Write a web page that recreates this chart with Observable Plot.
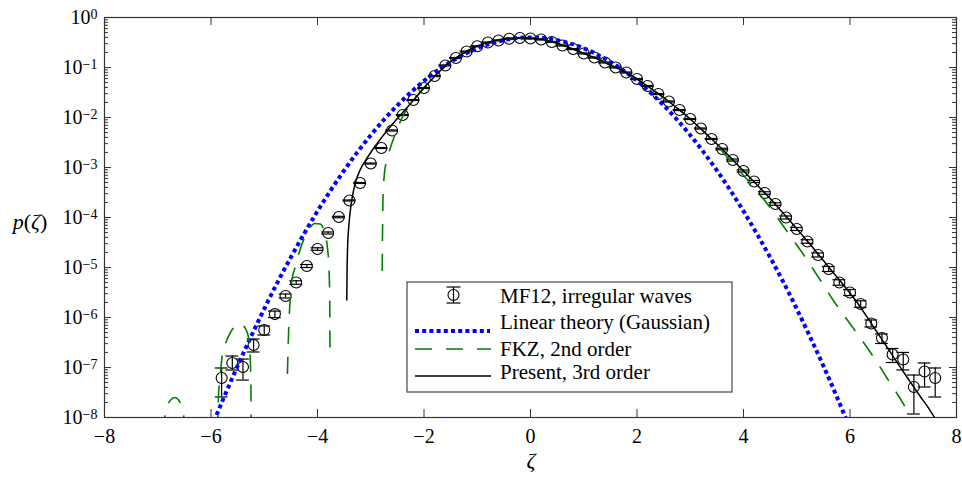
<!DOCTYPE html>
<html><head><meta charset="utf-8">
<script src="https://cdn.jsdelivr.net/npm/d3@7"></script>
<script src="https://cdn.jsdelivr.net/npm/@observablehq/plot@0.6"></script>
<style>
body{margin:0;background:#fff;}
#wrap{width:962px;height:478px;}
#wrap svg text, #wrap svg tspan{font-family:"Liberation Serif","Times New Roman",serif !important;}
</style></head><body><div id="wrap"></div>
<script>
// ---------- axis ticks ----------
const zetaTicks = [-8, -6, -4, -2, 0, 2, 4, 6, 8];
const decades = [1e-8, 1e-7, 1e-6, 1e-5, 1e-4, 1e-3, 1e-2, 1e-1, 1];
const decadeExponents = ["\u22128", "\u22127", "\u22126", "\u22125", "\u22124", "\u22123", "\u22122", "\u22121", "0"];

// ---------- MF12 irregular waves (circles with error bars) ----------
const mfZeta = [-5.8,-5.6,-5.4,-5.2,-5.0,-4.8,-4.6,-4.4,-4.2,-4.0,-3.8,-3.6,-3.4,-3.2,-3.0,-2.8,-2.6,-2.4,-2.2,-2.0,-1.8,-1.6,-1.4,-1.2,-1.0,-0.8,-0.6,-0.4,-0.2,0.0,0.2,0.4,0.6,0.8,1.0,1.2,1.4,1.6,1.8,2.0,2.2,2.4,2.6,2.8,3.0,3.2,3.4,3.6,3.8,4.0,4.2,4.4,4.6,4.8,5.0,5.2,5.4,5.6,5.8,6.0,6.2,6.4,6.6,6.8,7.0,7.2,7.4,7.6];
const mfP = [6.17e-8,1.23e-7,1.02e-7,2.82e-7,5.62e-7,1.17e-6,2.69e-6,5.01e-6,1.07e-5,2.34e-5,4.90e-5,1.02e-4,2.19e-4,4.90e-4,1.20e-3,2.45e-3,5.50e-3,1.12e-2,2.24e-2,3.89e-2,6.76e-2,0.110,0.155,0.209,0.266,0.316,0.347,0.376,0.389,0.380,0.363,0.324,0.275,0.234,0.191,0.158,0.126,0.100,0.0794,0.0589,0.0427,0.0295,0.0209,0.0141,9.33e-3,6.03e-3,3.72e-3,2.34e-3,1.41e-3,8.51e-4,5.25e-4,3.09e-4,1.86e-4,1.00e-4,5.89e-5,3.31e-5,1.78e-5,9.33e-6,5.01e-6,3.16e-6,1.86e-6,7.59e-7,3.89e-7,1.82e-7,1.45e-7,4.07e-8,8.32e-8,6.17e-8];
// error bar extent below / above each point, in decades
const mfErrDown = [0.38,0.14,0.26,0.14,0.10,0.07,0.04,0.035,0.03,0.025,0.02,0.015,
  0.01,0.01,0.01,0.01,0.01,0.01,0.01,0.01,0.01,0.01,0.01,0.01,0.01,0.01,0.01,0.01,0.01,0.01,0.01,0.01,0.01,0.01,0.01,0.01,0.01,0.01,0.01,0.01,0.01,0.01,0.01,0.01,0.01,0.01,0.01,
  0.015,0.02,0.02,0.02,0.025,0.025,0.03,0.03,0.035,0.04,0.05,0.055,0.06,0.065,0.07,0.11,0.16,0.21,0.54,0.31,0.38];
const mfErrUp = [0.20,0.14,0.16,0.12,0.08,0.06,0.04,0.035,0.03,0.025,0.02,0.015,
  0.01,0.01,0.01,0.01,0.01,0.01,0.01,0.01,0.01,0.01,0.01,0.01,0.01,0.01,0.01,0.01,0.01,0.01,0.01,0.01,0.01,0.01,0.01,0.01,0.01,0.01,0.01,0.01,0.01,0.01,0.01,0.01,0.01,0.01,0.01,
  0.015,0.02,0.02,0.02,0.025,0.025,0.03,0.03,0.035,0.04,0.05,0.055,0.06,0.065,0.07,0.08,0.12,0.14,0.24,0.17,0.20];

// ---------- Linear theory (Gaussian) ----------
const gaussZeta = [-6,-5.75,-5.5,-5.25,-5,-4.75,-4.5,-4.25,-4,-3.75,-3.5,-3.25,-3,-2.75,-2.5,-2.25,-2,-1.75,-1.5,-1.25,-1,-0.75,-0.5,-0.25,0,0.25,0.5,0.75,1,1.25,1.5,1.75,2,2.25,2.5,2.75,3,3.25,3.5,3.75,4,4.25,4.5,4.75,5,5.25,5.5,5.75,6];
const gaussP = [6.08e-9,2.63e-8,1.08e-7,4.1e-7,1.49e-6,5.08e-6,1.6e-5,4.75e-5,1.34e-4,3.53e-4,8.73e-4,2.03e-3,4.43e-3,9.1e-3,1.75e-2,3.17e-2,5.4e-2,8.63e-2,0.1295,0.1826,0.242,0.301,0.352,0.387,0.399,0.387,0.352,0.301,0.242,0.1826,0.1295,8.63e-2,5.4e-2,3.17e-2,1.75e-2,9.1e-3,4.43e-3,2.03e-3,8.73e-4,3.53e-4,1.34e-4,4.75e-5,1.6e-5,5.08e-6,1.49e-6,4.1e-7,1.08e-7,2.63e-8,6.08e-9];

// ---------- FKZ, 2nd order (four separate lobes) ----------
const fkzAZeta = [-6.9,-6.87,-6.8,-6.75,-6.68,-6.6,-6.55,-6.51,-6.49];
const fkzAP = [5.01e-9,1.0e-8,1.91e-8,2.29e-8,2.51e-8,2.19e-8,1.58e-8,1.0e-8,6.31e-9];
const fkzBZeta = [-5.88,-5.86,-5.83,-5.79,-5.72,-5.65,-5.55,-5.45,-5.38,-5.32,-5.28,-5.262,-5.25,-5.245];
const fkzBP = [5.01e-9,2.51e-8,6.31e-8,1.70e-7,3.16e-7,4.68e-7,6.76e-7,7.59e-7,6.61e-7,5.01e-7,3.16e-7,1.41e-7,3.98e-8,5.01e-9];
const fkzCZeta = [-4.565,-4.54,-4.51,-4.48,-4.42,-4.35,-4.25,-4.15,-4.05,-3.95,-3.88,-3.82,-3.785,-3.77,-3.765];
const fkzCP = [7.41e-8,6.31e-7,2.51e-6,5.62e-6,1.0e-5,1.91e-5,3.80e-5,6.03e-5,7.59e-5,7.41e-5,5.62e-5,2.82e-5,1.0e-5,2.0e-6,1.48e-7];
const fkzDZeta = [-2.785,-2.778,-2.77,-2.75,-2.72,-2.68,-2.62,-2.55,-2.48,-2.4,-2.3,
  -2.1,-1.9,-1.7,-1.5,-1.3,-1.1,-0.9,-0.7,-0.5,-0.3,-0.1,0.1,0.3,0.5,0.7,0.9,1.1,1.3,1.5,1.7,1.9,2.1,2.3,2.5,2.7,2.9,3.1,3.3,
  3.5,3.7,3.9,4.1,4.3,4.5,4.7,4.9,5.1,5.3,5.5,5.7,5.9,6.1,6.3,6.5,6.7,6.9,7.1,7.2];
const fkzDP = [8.51e-6,6.31e-5,2.51e-4,6.31e-4,1.12e-3,1.66e-3,2.69e-3,4.37e-3,6.76e-3,1.05e-2,1.58e-2,
  2.95e-2,5.13e-2,8.51e-2,0.132,0.182,0.240,0.295,0.339,0.372,0.389,0.394,0.380,0.351,0.305,0.257,0.211,0.174,0.141,0.112,0.0891,0.0684,0.0501,0.0355,0.0251,0.0170,0.0115,7.41e-3,4.68e-3,
  2.82e-3,1.58e-3,9.12e-4,5.25e-4,2.95e-4,1.58e-4,7.94e-5,3.98e-5,2.0e-5,9.55e-6,4.47e-6,2.09e-6,1.05e-6,5.37e-7,2.69e-7,1.32e-7,6.03e-8,2.82e-8,1.26e-8,8.32e-9];

// ---------- Present, 3rd order ----------
const presentZeta = [-3.45,-3.445,-3.435,-3.41,-3.37,-3.3,-3.2,-3.05,-2.9,-2.7,-2.5,-2.3,-2.1,-1.9,-1.7,-1.5,-1.3,-1.1,-0.9,-0.7,-0.5,-0.3,-0.1,0.1,0.3,0.5,0.7,0.9,1.1,1.3,1.5,1.7,1.9,2.1,2.3,2.5,2.7,2.9,3.1,3.3,3.5,3.7,3.9,4.1,4.3,4.5,4.7,4.9,5.1,5.3,5.5,5.7,5.9,6.1,6.3,6.5,6.7,6.9,7.1,7.3,7.5,7.6];
const presentP = [2.24e-6,7.94e-6,2.51e-5,7.08e-5,1.78e-4,4.47e-4,8.91e-4,1.66e-3,2.82e-3,5.37e-3,9.55e-3,1.66e-2,2.95e-2,5.13e-2,8.51e-2,0.132,0.182,0.240,0.295,0.339,0.372,0.389,0.394,0.380,0.351,0.305,0.257,0.211,0.174,0.141,0.112,0.0891,0.0684,0.0501,0.0355,0.0251,0.0170,0.0115,7.41e-3,4.68e-3,2.95e-3,1.82e-3,1.10e-3,6.61e-4,3.98e-4,2.40e-4,1.38e-4,7.94e-5,4.47e-5,2.51e-5,1.38e-5,7.59e-6,4.17e-6,2.24e-6,1.10e-6,5.25e-7,2.51e-7,1.20e-7,5.75e-8,2.82e-8,1.41e-8,9.55e-9];

// ---------- tables ----------
const mf = mfZeta.map((z, i) => ({
  z, p: mfP[i],
  lo: mfP[i] / Math.pow(10, mfErrDown[i]),
  hi: mfP[i] * Math.pow(10, mfErrUp[i])
}));
const gauss = gaussZeta.map((z, i) => ({z, p: gaussP[i]}));
const fkz = [
  ...fkzAZeta.map((z, i) => ({z, p: fkzAP[i], lobe: "A"})),
  ...fkzBZeta.map((z, i) => ({z, p: fkzBP[i], lobe: "B"})),
  ...fkzCZeta.map((z, i) => ({z, p: fkzCP[i], lobe: "C"})),
  ...fkzDZeta.map((z, i) => ({z, p: fkzDP[i], lobe: "D"}))
];
const present = presentZeta.map((z, i) => ({z, p: presentP[i]}));
const minorTicks = decades.slice(0, -1).flatMap(d => [2,3,4,5,6,7,8,9].map(k => k * d));

const FRAME = "#333";
const serif = "'Liberation Serif', 'Times New Roman', serif";
const capHalf = 0.12;      // cap half-width in zeta units
const yTickMajor = 0.13, yTickMinor = 0.075;  // inward tick length, zeta units
const xTickLen = 0.16;     // inward tick length, decades

const chart = Plot.plot({
  width: 962, height: 478,
  marginLeft: 104, marginRight: 6, marginTop: 17, marginBottom: 61,
  x: {domain: [-8, 8]},
  y: {type: "log", domain: [1e-8, 1]},
  style: {fontFamily: serif, fontSize: "20px", color: "#000", background: "#fff", overflow: "visible"},
  marks: [
    Plot.axisX({ticks: zetaTicks, tickSize: 0, tickPadding: 11, tickFormat: d => d < 0 ? "\u2212" + (-d) : String(d), label: null, fontSize: 20}),
    Plot.axisY({ticks: decades, tickSize: 0, tickPadding: 7, tickFormat: d => "10^" + decadeExponents[decades.indexOf(d)], label: null, fontSize: 20}),
    // inward ticks
    Plot.ruleY(decades, {y: d => d, x1: -8, x2: -8 + yTickMajor, stroke: FRAME, strokeWidth: 1}),
    Plot.ruleY(minorTicks, {y: d => d, x1: -8, x2: -8 + yTickMinor, stroke: FRAME, strokeWidth: 1}),
    Plot.ruleY(decades, {y: d => d, x1: 8 - yTickMajor, x2: 8, stroke: FRAME, strokeWidth: 1}),
    Plot.ruleY(minorTicks, {y: d => d, x1: 8 - yTickMinor, x2: 8, stroke: FRAME, strokeWidth: 1}),
    Plot.ruleX(zetaTicks, {x: d => d, y1: 1e-8, y2: 1e-8 * Math.pow(10, xTickLen), stroke: FRAME, strokeWidth: 1}),
    Plot.ruleX(zetaTicks, {x: d => d, y1: 1, y2: Math.pow(10, -xTickLen), stroke: FRAME, strokeWidth: 1}),
    // data: error bars + circles
    Plot.ruleX(mf, {x: "z", y1: "lo", y2: "hi", stroke: "#000", strokeWidth: 1.2, clip: true}),
    Plot.ruleY(mf, {y: "lo", x1: d => d.z - capHalf, x2: d => d.z + capHalf, stroke: "#000", strokeWidth: 1.2, clip: true}),
    Plot.ruleY(mf, {y: "hi", x1: d => d.z - capHalf, x2: d => d.z + capHalf, stroke: "#000", strokeWidth: 1.2, clip: true}),
    Plot.dot(mf, {x: "z", y: "p", r: 5.5, stroke: "#000", fill: "none", strokeWidth: 1.1}),
    // curves
    Plot.line(gauss, {x: "z", y: "p", stroke: "#0000ff", strokeWidth: 4, strokeDasharray: "4,3.2", strokeLinecap: "butt", strokeLinejoin: "miter", curve: "monotone-x", clip: true}),
    Plot.line(fkz, {x: "z", y: "p", z: "lobe", stroke: "#008000", strokeWidth: 1.6, strokeDasharray: "17,13", strokeLinecap: "butt", curve: "monotone-x", clip: true}),
    Plot.line(present, {x: "z", y: "p", stroke: "#000", strokeWidth: 1.5, curve: "monotone-x", clip: true}),
    Plot.frame({stroke: FRAME, strokeWidth: 1.2})
  ]
});

document.getElementById("wrap").appendChild(chart);
const svg = d3.select(chart);

// superscript exponents on the y tick labels
svg.selectAll('g[aria-label="y-axis tick label"] text').each(function () {
  const t = this.textContent;
  if (!t.includes("^")) return;
  const [base, ex] = t.split("^");
  const sel = d3.select(this);
  sel.text(null);
  sel.append("tspan").text(base);
  sel.append("tspan").attr("dy", "-0.36em").attr("font-size", "14px").text(ex);
});

// axis labels
const yl = svg.append("text").attr("x", 30).attr("y", 229).attr("text-anchor", "middle")
  .attr("font-family", serif).attr("font-size", 22).attr("fill", "#000");
yl.append("tspan").attr("font-style", "italic").text("p");
yl.append("tspan").text("(");
yl.append("tspan").attr("font-style", "italic").text("\u03b6");
yl.append("tspan").text(")");
svg.append("text").attr("x", 531).attr("y", 468).attr("text-anchor", "middle")
  .attr("font-family", serif).attr("font-size", 22).attr("font-style", "italic").attr("fill", "#000").text("\u03b6");

// legend
const lg = svg.append("g").attr("font-family", serif).attr("font-size", 21).attr("fill", "#000").attr("text-anchor", "start");
lg.append("rect").attr("x", 407).attr("y", 282).attr("width", 325).attr("height", 110)
  .attr("fill", "#fff").attr("stroke", "#555").attr("stroke-width", 1.3);
// MF12 symbol
lg.append("line").attr("x1", 453.5).attr("x2", 453.5).attr("y1", 287).attr("y2", 303).attr("stroke", "#000").attr("stroke-width", 1.2);
lg.append("line").attr("x1", 446.5).attr("x2", 460.5).attr("y1", 287).attr("y2", 287).attr("stroke", "#000").attr("stroke-width", 1.2);
lg.append("line").attr("x1", 446.5).attr("x2", 460.5).attr("y1", 303).attr("y2", 303).attr("stroke", "#000").attr("stroke-width", 1.2);
lg.append("circle").attr("cx", 453.5).attr("cy", 295).attr("r", 5.5).attr("fill", "none").attr("stroke", "#000").attr("stroke-width", 1.1);
// lines
lg.append("line").attr("x1", 415).attr("x2", 490).attr("y1", 331).attr("y2", 331).attr("stroke", "#0000ff").attr("stroke-width", 4).attr("stroke-dasharray", "4,3.2");
lg.append("line").attr("x1", 415).attr("x2", 491).attr("y1", 349).attr("y2", 349).attr("stroke", "#008000").attr("stroke-width", 1.6).attr("stroke-dasharray", "17,14");
lg.append("line").attr("x1", 415).attr("x2", 491).attr("y1", 376).attr("y2", 376).attr("stroke", "#000").attr("stroke-width", 1.5);
const legendText = ["MF12, irregular waves", "Linear theory (Gaussian)", "FKZ, 2nd order", "Present, 3rd order"];
const legendBase = [303, 329, 356, 379];
legendText.forEach((t, i) => lg.append("text").attr("x", 500).attr("y", legendBase[i]).attr("text-anchor", "start").text(t));
</script>
</body></html>
